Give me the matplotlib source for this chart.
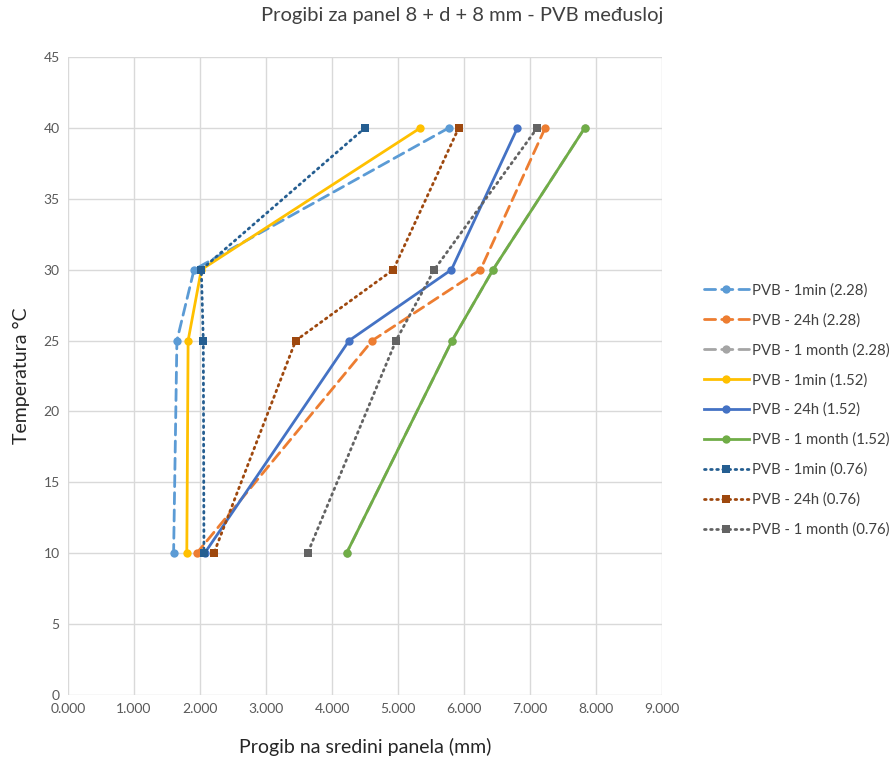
import matplotlib
matplotlib.use("Agg")
import matplotlib.pyplot as plt

plt.rcParams['font.family'] = ['Lato', 'DejaVu Sans']

temps = [40, 30, 25, 10]

# deflections (mm) at each temperature
min1_228 = [5.77, 1.91, 1.65, 1.60]
h24_228 = [7.23, 6.25, 4.61, 1.95]
month_228 = [7.83, 6.44, 5.82, 4.22]   # hidden under the 1.52 month line
min1_152 = [5.34, 2.02, 1.82, 1.80]
h24_152 = [6.81, 5.81, 4.26, 2.07]
month_152 = [7.83, 6.44, 5.82, 4.22]
min1_076 = [4.50, 2.02, 2.05, 2.06]
h24_076 = [5.92, 4.93, 3.45, 2.21]
month_076 = [7.11, 5.55, 4.97, 3.63]

labels = ['PVB - 1min (2.28)', 'PVB - 24h (2.28)', 'PVB - 1 month (2.28)',
          'PVB - 1min (1.52)', 'PVB - 24h (1.52)', 'PVB - 1 month (1.52)',
          'PVB - 1min (0.76)', 'PVB - 24h (0.76)', 'PVB - 1 month (0.76)']

x_ticks = [0, 1, 2, 3, 4, 5, 6, 7, 8, 9]
y_ticks = [0, 5, 10, 15, 20, 25, 30, 35, 40, 45]

series = [
    (min1_228, '#5B9BD5', (0, (4, 2.2)), 'o'),
    (h24_228, '#ED7D31', (0, (4, 2.2)), 'o'),
    (month_228, '#A5A5A5', (0, (4, 2.2)), 'o'),
    (min1_152, '#FFC000', '-', 'o'),
    (h24_152, '#4472C4', '-', 'o'),
    (month_152, '#70AD47', '-', 'o'),
    (min1_076, '#255E91', (0, (0.6, 1.6)), 's'),
    (h24_076, '#9E480E', (0, (0.6, 1.6)), 's'),
    (month_076, '#636363', (0, (0.6, 1.6)), 's'),
]

fig = plt.figure(figsize=(8.93, 7.57), dpi=100)
ax = fig.add_axes([68 / 893, 1 - 695 / 757, (662 - 68) / 893, (695 - 57) / 757])

for (vals, col, ls, mk), lab in zip(series, labels):
    ax.plot(vals, temps, color=col, linestyle=ls, linewidth=2.0,
            marker=mk, markersize=6 if mk == 'o' else 5.5,
            markeredgewidth=0, label=lab, dash_capstyle='round')

ax.set_xlim(0, 9)
ax.set_ylim(0, 45)
ax.set_xticks(x_ticks)
ax.set_xticklabels(['%.3f' % v for v in x_ticks])
ax.set_yticks(y_ticks)
ax.grid(True, color='#D9D9D9', linewidth=1)
ax.set_axisbelow(True)
for s in ax.spines.values():
    s.set_visible(False)
ax.tick_params(length=0, labelsize=10, labelcolor='#595959', pad=6)

# title is centred on the whole chart area, not on the plot
ax.set_title('Progibi za panel 8 + d + 8 mm - PVB međusloj', fontsize=14.5,
             color='#404040', pad=26, x=(462 - 68) / 594)
ax.set_xlabel('Progib na sredini panela (mm)', fontsize=14, color='#262626', labelpad=16)
ax.set_ylabel('Temperatura °C', fontsize=14, color='#262626', labelpad=10)

fig.legend(loc='center left', bbox_to_anchor=(704 / 893, 1 - 410 / 757),
           frameon=False, fontsize=10.7, labelcolor='#404040',
           handlelength=3.0, labelspacing=1.05, handletextpad=0.2,
           borderaxespad=0, borderpad=0)

fig.savefig('out.png', dpi=100)
